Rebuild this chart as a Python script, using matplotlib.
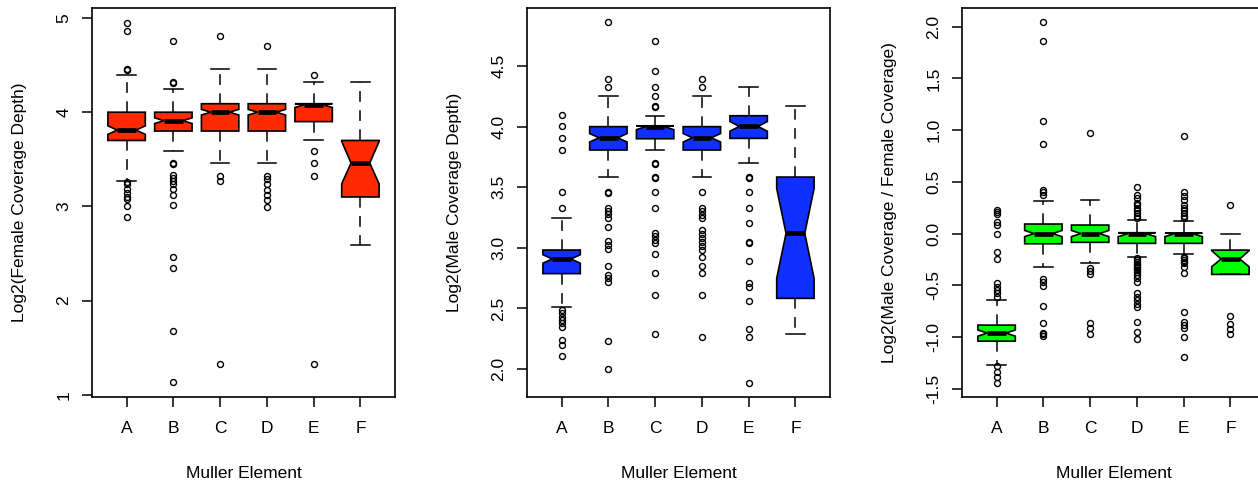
import numpy as np
import matplotlib
matplotlib.use('Agg')
import matplotlib.pyplot as plt
from matplotlib.ticker import FormatStrFormatter

plt.rcParams['font.family'] = ['Liberation Sans', 'DejaVu Sans']
plt.rcParams['axes.unicode_minus'] = False

#%% data (box stats per Muller element)

elements = ['A', 'B', 'C', 'D', 'E', 'F']

# female coverage depth
fem_med = [3.81, 3.91, 4.00, 4.00, 4.08, 3.46]
fem_q1 = [3.70, 3.80, 3.80, 3.80, 3.90, 3.10]
fem_q3 = [4.00, 4.00, 4.09, 4.09, 4.09, 3.70]
fem_wlo = [3.265, 3.585, 3.46, 3.46, 3.70, 2.59]
fem_whi = [4.39, 4.245, 4.46, 4.46, 4.32, 4.32]
fem_cilo = [3.765, 3.88, 3.97, 3.97, 4.05, 3.24]
fem_cihi = [3.855, 3.94, 4.03, 4.03, 4.09, 3.69]
fem_out = [
    [4.95, 4.86, 4.46, 4.45, 3.257, 3.233, 3.187, 3.141, 3.099, 3.081, 3.003, 2.891],
    [4.757, 4.32, 4.31, 3.458, 3.45, 3.331, 3.30, 3.27, 3.233, 3.19, 3.12, 3.02, 2.46, 2.35, 1.68, 1.14],
    [4.806, 3.318, 3.265, 1.325],
    [4.70, 3.328, 3.293, 3.233, 3.169, 3.12, 3.063, 2.993],
    [4.393, 3.585, 3.458, 3.32, 1.325],
    [],
]

# male coverage depth
mal_med = [2.908, 3.908, 4.00, 3.908, 4.002, 3.12]
mal_q1 = [2.787, 3.807, 3.90, 3.807, 3.903, 2.583]
mal_q3 = [2.982, 4.00, 4.007, 4.00, 4.09, 3.584]
mal_wlo = [2.512, 3.584, 3.807, 3.584, 3.70, 2.289]
mal_whi = [3.25, 4.25, 4.09, 4.25, 4.324, 4.173]
mal_cilo = [2.873, 3.873, 3.975, 3.873, 3.962, 2.748]
mal_cihi = [2.943, 3.943, 4.007, 3.943, 4.042, 3.49]
mal_out = [
    [4.093, 4.002, 3.908, 3.809, 3.46, 3.326, 2.487, 2.46, 2.43, 2.404, 2.377, 2.344, 2.239, 2.198, 2.107],
    [4.86, 4.395, 4.327, 3.46, 3.45, 3.33, 3.30, 3.276, 3.243, 3.17, 3.056, 3.023, 2.988, 2.85,
     2.776, 2.748, 2.715, 2.231, 2.0],
    [4.704, 4.461, 4.324, 4.25, 4.173, 4.165, 3.70, 3.69, 3.584, 3.576, 3.46, 3.326, 3.125, 3.097,
     3.064, 3.037, 2.946, 2.79, 2.608, 2.292],
    [4.395, 4.324, 3.46, 3.33, 3.30, 3.27, 3.25, 3.144, 3.111, 3.078, 3.045, 3.018, 2.982, 2.927,
     2.852, 2.79, 2.611, 2.261],
    [3.584, 3.576, 3.46, 3.326, 3.202, 3.05, 3.037, 2.891, 2.707, 2.679, 2.564, 2.33, 2.261, 1.887],
    [],
]

# male / female ratio
rat_med = [-0.962, 0.0, 0.0, -0.002, -0.002, -0.246]
rat_q1 = [-1.04, -0.099, -0.085, -0.095, -0.095, -0.395]
rat_q3 = [-0.885, 0.092, 0.082, 0.008, 0.005, -0.16]
rat_wlo = [-1.272, -0.324, -0.282, -0.224, -0.20, -0.395]
rat_whi = [-0.646, 0.317, 0.321, 0.134, 0.121, 0.0]
rat_cilo = [-0.992, -0.03, -0.03, -0.03, -0.03, -0.321]
rat_cihi = [-0.932, 0.03, 0.03, 0.008, 0.005, -0.165]
rat_out = [
    [0.227, 0.205, 0.186, 0.108, 0.082, -0.002, -0.176, -0.25, -0.482, -0.515, -0.546, -0.578,
     -0.611, -1.279, -1.337, -1.385, -1.443],
    [2.04, 1.862, 1.088, 0.863, 0.421, 0.398, 0.372, -0.44, -0.472, -0.505, -0.704, -0.863,
     -0.96, -0.975, -0.989],
    [0.972, -0.337, -0.363, -0.395, -0.863, -0.917, -0.969],
    [0.453, 0.372, 0.346, 0.30, 0.276, 0.25, 0.224, 0.198, 0.172, 0.15, -0.24, -0.255, -0.273,
     -0.29, -0.305, -0.32, -0.337, -0.355, -0.37, -0.401, -0.433, -0.466, -0.578, -0.611, -0.643,
     -0.682, -0.708, -0.853, -0.95, -1.017],
    [0.94, 0.398, 0.363, 0.32, 0.276, 0.25, 0.224, 0.198, 0.172, 0.15, -0.224, -0.24, -0.257,
     -0.273, -0.289, -0.321, -0.379, -0.756, -0.853, -0.885, -0.917, -1.001, -1.194],
    [0.276, -0.795, -0.878, -0.924, -0.975],
]

panels = [
    ('Log2(Female Coverage Depth)', '#FF2A00',
     fem_med, fem_q1, fem_q3, fem_wlo, fem_whi, fem_cilo, fem_cihi, fem_out),
    ('Log2(Male Coverage Depth)', '#1030FF',
     mal_med, mal_q1, mal_q3, mal_wlo, mal_whi, mal_cilo, mal_cihi, mal_out),
    ('Log2(Male Coverage / Female Coverage)', '#00FF00',
     rat_med, rat_q1, rat_q3, rat_wlo, rat_whi, rat_cilo, rat_cihi, rat_out),
]

ylims = [(0.977, 5.106), (1.769, 4.979), (-1.58, 2.18)]
yticks = [np.arange(1, 5.01, 1), np.arange(2.0, 4.51, 0.5), np.arange(-1.5, 2.01, 0.5)]
yfmt = ['%d', '%.1f', '%.1f']

#%% plot

W, H = 1258, 487
fig = plt.figure(figsize=(W / 100, H / 100), dpi=100)
lefts = [92, 527, 962]
fs = 12.5

for i, (ylabel, col, med, q1, q3, wlo, whi, cilo, cihi, out) in enumerate(panels):
    ax = fig.add_axes([lefts[i] / W, 90 / H, 303 / W, 389 / H])
    stats = []
    for k, name in enumerate(elements):
        stats.append(dict(label=name, med=med[k], q1=q1[k], q3=q3[k],
                          whislo=wlo[k], whishi=whi[k],
                          cilo=cilo[k], cihi=cihi[k], fliers=out[k]))
    ax.bxp(stats, positions=np.arange(1, 7), widths=0.8, shownotches=True,
           patch_artist=True,
           boxprops=dict(facecolor=col, edgecolor='black', linewidth=1.2),
           medianprops=dict(color='black', linewidth=3.4, solid_capstyle='butt'),
           whiskerprops=dict(color='black', linestyle=(0, (7, 5.5)), linewidth=1.1),
           capprops=dict(color='black', linewidth=1.1),
           flierprops=dict(marker='o', markerfacecolor='none', markeredgecolor='black',
                           markersize=4.3, markeredgewidth=1.0))

    ax.set_xlim(0.26, 6.74)
    ax.set_ylim(*ylims[i])
    ax.set_yticks(yticks[i])
    ax.yaxis.set_major_formatter(FormatStrFormatter(yfmt[i]))
    for lab in ax.get_yticklabels():
        lab.set_rotation(90)
        lab.set_va('center')
    ax.tick_params(axis='both', direction='out', length=7, width=1.1,
                   labelsize=fs, color='black')
    ax.tick_params(axis='y', pad=8)
    ax.tick_params(axis='x', pad=10)
    for s in ax.spines.values():
        s.set_linewidth(1.2)

    ax.set_xlabel('Muller Element', fontsize=fs, labelpad=22)
    ax.set_ylabel(ylabel, fontsize=fs, labelpad=21)

fig.savefig('out.png', dpi=100)
